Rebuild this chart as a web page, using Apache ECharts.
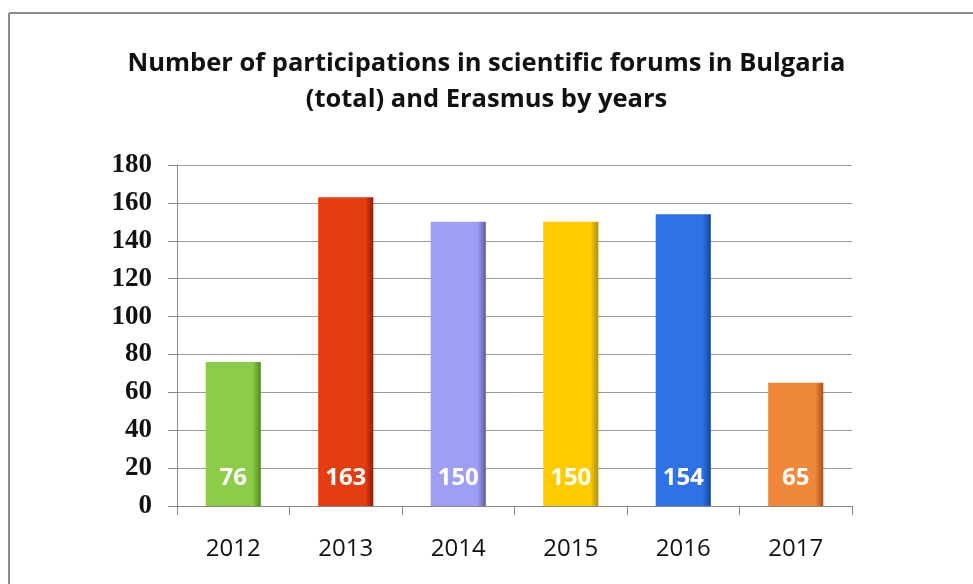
<!DOCTYPE html>
<html>
<head>
<meta charset="utf-8">
<script src="https://cdn.jsdelivr.net/npm/echarts@6/dist/echarts.min.js"></script>
<style>html,body{margin:0;padding:0;background:#fff}#c{width:973px;height:584px}</style>
</head>
<body>
<div id="c"></div>
<script>
const categories = ['2012', '2013', '2014', '2015', '2016', '2017'];
const values = [76, 163, 150, 150, 154, 65];
const barColors = ['#8ccc48', '#e53d12', '#9f9ef5', '#ffcc00', '#2e72e6', '#f0883a'];
const darkColors = ['#4f8a1c', '#8e1e05', '#5b5aa8', '#b88f00', '#17469a', '#a8521a'];
const yTicks = { min: 0, max: 180, interval: 20 };
const titleText = 'Number of participations in scientific forums in Bulgaria\n(total) and Erasmus by years';

const chart = echarts.init(document.getElementById('c'), null, { renderer: 'canvas' });
chart.setOption({
  backgroundColor: '#ffffff',
  animation: false,
  title: {
    text: titleText,
    left: 'center',
    top: 41,
    textStyle: {
      fontFamily: 'Open Sans',
      fontWeight: 'bold',
      fontSize: 25.5,
      lineHeight: 36,
      color: '#111'
    }
  },
  graphic: [
    { type: 'line', shape: { x1: 9, y1: 13, x2: 973, y2: 13 }, style: { stroke: '#8c8c8c', lineWidth: 2 } },
    { type: 'line', shape: { x1: 9, y1: 13, x2: 9, y2: 584 }, style: { stroke: '#8c8c8c', lineWidth: 2 } }
  ],
  grid: { left: 177, right: 121, top: 165, bottom: 78, containLabel: false },
  xAxis: {
    type: 'category',
    data: categories,
    axisLine: { lineStyle: { color: '#888', width: 1 } },
    axisTick: { show: true, length: 9, lineStyle: { color: '#888' } },
    axisLabel: { margin: 31, fontFamily: 'Open Sans', fontSize: 24, color: '#111' }
  },
  yAxis: {
    type: 'value',
    min: yTicks.min,
    max: yTicks.max,
    interval: yTicks.interval,
    axisLine: { show: true, lineStyle: { color: '#888', width: 1 } },
    axisTick: { show: true, length: 9, lineStyle: { color: '#888' } },
    axisLabel: { margin: 25, fontFamily: 'Liberation Serif', fontWeight: 'bold', fontSize: 27, color: '#111' },
    splitLine: { show: true, lineStyle: { color: '#999', width: 1 } }
  },
  series: [{
    type: 'bar',
    barWidth: '49%',
    data: values.map((v, i) => ({
      value: v,
      itemStyle: {
        color: new echarts.graphic.LinearGradient(0, 0, 1, 0, [
          { offset: 0, color: barColors[i] },
          { offset: 0.08, color: barColors[i] },
          { offset: 0.85, color: barColors[i] },
          { offset: 1, color: darkColors[i] }
        ])
      }
    })),
    label: {
      show: true,
      position: 'insideBottom',
      distance: 16,
      color: '#fff',
      fontFamily: 'Open Sans',
      fontWeight: 'bold',
      fontSize: 24
    }
  }]
});
</script>
</body>
</html>
